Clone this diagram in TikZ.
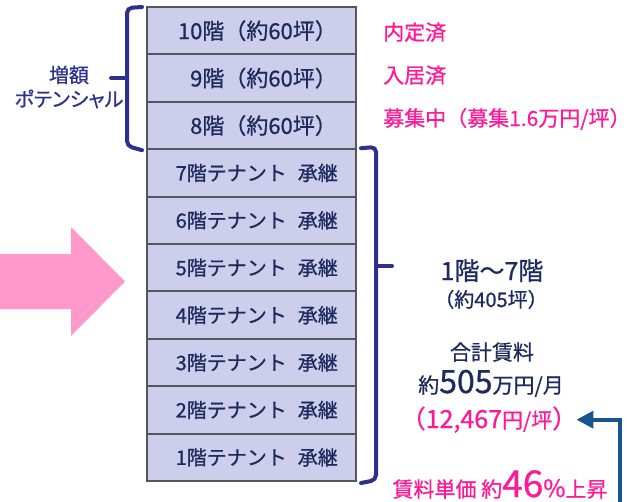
\documentclass[tikz,border=0pt]{standalone}
\usepackage{fontspec}
\setmainfont{Noto Sans CJK JP}[RawFeature={embolden=0.8}]
\newfontfamily\jpprop{Noto Sans CJK JP}[RawFeature={+palt;embolden=0.8}]
\usetikzlibrary{arrows.meta}

\definecolor{floorfill}{RGB}{205,205,236}
\definecolor{floorline}{RGB}{85,85,90}
\definecolor{navytext}{RGB}{28,42,94}
\definecolor{bracecol}{RGB}{46,49,140}
\definecolor{pinktext}{RGB}{255,25,150}
\definecolor{pinkarrow}{RGB}{255,153,204}
\definecolor{bluearrow}{RGB}{24,84,142}

\begin{document}
\begin{tikzpicture}[x=1pt, y=-1pt,
  floor/.style={draw=floorline, line width=2pt, fill=floorfill, minimum width=209pt, minimum height=47.4pt, inner sep=0pt},
  fl/.style={text=navytext, font=\fontsize{20}{20}\selectfont, anchor=east, inner sep=0pt},
  note/.style={text=pinktext, font=\fontsize{21}{21}\selectfont, anchor=base west, inner sep=0pt},
  info/.style={text=navytext, font=\fontsize{21}{21}\selectfont, anchor=base, inner sep=0pt},
  brace/.style={draw=bracecol, line width=4pt, rounded corners=5pt, line cap=round}]
\useasboundingbox (0,0) rectangle (631,501);
% floors
\foreach \n in {1,...,10}
  \node[floor] (f\n) at (251.5,{481-47.4*(\n-0.5)}) {};
\foreach \n in {8,9,10}
  \node[fl, font=\fontsize{22}{22}\selectfont] (l\n) at ([xshift=-20pt]f\n.east) {{\n}階（約60坪）};
\foreach \n in {1,...,7}
  \node[fl] (l\n) at ([xshift=-19pt]f\n.east) {{\n}階テナント\hspace{0.55em}承継};
% pink arrow
\fill[pinkarrow] (0,254) -- (71,254) -- (71,227) -- (125,281.5) -- (71,336) -- (71,309) -- (0,309) -- cycle;
% braces
\draw[brace] ([xshift=-4pt,yshift=-1pt]f10.north west) -- (127,8) -- (127,146) -- ([xshift=-4pt]f8.south west);
\draw[brace] (127,78) -- (111,78);
\draw[brace] ([xshift=4pt]f7.north east) -- (376,147) -- (376,480) -- ([xshift=4pt,yshift=-1pt]f1.south east);
\draw[brace] (376,266) -- (392,266);
% left text
\node[text=bracecol, font=\jpprop\fontsize{20}{20}\selectfont, align=center, inner sep=0pt] (pot) at (69,87) {増額\\[4pt]ポテンシャル};
% right notes
\node[note] (tDone) at (383,40) {内定済};
\node[note] (tMoved) at (383,83) {入居済};
\node[note] (tRecruit) at (383,126) {募集中（募集1.6万円/坪）};
\node[info, font=\fontsize{25}{25}\selectfont] (tRange) at (492,280) {1階～7階};
\node[info, font=\fontsize{20}{20}\selectfont] (tArea) at (491,307) {（約405坪）};
\node[info] (tTotalLbl) at (492,360) {合計賃料};
\node[info] (tTotal) at (491,393) {約{\fontsize{32}{32}\selectfont 505}万円/月};
\node[info, text=pinktext] (tRate) at (489,428) {{\fontsize{25}{25}\selectfont （12,467}円/坪{\fontsize{25}{25}\selectfont ）}};
\node[info, text=pinktext] (tRise) at (500,497) {賃料単価 約{\fontsize{37}{37}\selectfont 46}{\fontsize{24}{24}\selectfont \%}上昇};
% blue arrow
\coordinate (bStart) at (620,505);
\draw[bluearrow, line width=4pt, -{Triangle[length=17pt, width=17pt]}] (bStart) |- ([xshift=-1pt]tRate.east);
\end{tikzpicture}
\end{document}
